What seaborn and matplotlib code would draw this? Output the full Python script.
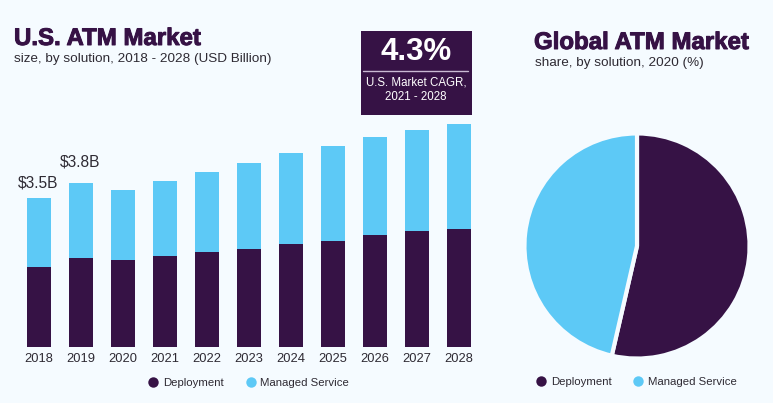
import matplotlib
matplotlib.use("Agg")
import matplotlib.pyplot as plt
import matplotlib.patheffects as pe
from matplotlib.lines import Line2D
from matplotlib.patches import Rectangle
import seaborn as sns
import pandas as pd

years = ["2018", "2019", "2020", "2021", "2022", "2023", "2024", "2025", "2026", "2027", "2028"]
deployment = [1.88, 2.10, 2.04, 2.13, 2.23, 2.31, 2.42, 2.50, 2.62, 2.72, 2.76]
managed = [1.62, 1.75, 1.65, 1.77, 1.88, 2.00, 2.14, 2.22, 2.31, 2.38, 2.48]
bar_labels = ["$3.5B", "$3.8B"]
share_labels = ["Deployment", "Managed Service"]
share_values = [53.6, 46.4]

DARK = "#361245"
BLUE = "#5DC9F6"
BG = "#F5FBFF"
TEXT = "#2E2A33"
W, H = 773, 403

sns.set_theme(style="white")
plt.rcParams["font.family"] = ["Liberation Sans", "DejaVu Sans"]
fig = plt.figure(figsize=(W / 100, H / 100), dpi=100, facecolor=BG)

def fx(px): return px / W
def fy(py): return 1 - py / H

# bars
ax = fig.add_axes([fx(18), fy(347), 462 / W, 247 / H], facecolor="none")
df = pd.DataFrame({"year": years, "deployment": deployment, "managed": managed})
sns.barplot(data=df, x="year", y="managed", bottom=df["deployment"], color=BLUE,
            width=0.585, saturation=1, ax=ax, linewidth=0)
sns.barplot(data=df, x="year", y="deployment", color=DARK,
            width=0.585, saturation=1, ax=ax, linewidth=0)
ax.set_xlim(-0.5, 10.5)
ax.set_ylim(0, 5.80)
ax.set_xlabel("")
ax.set_ylabel("")
ax.set_yticks([])
sns.despine(ax=ax, left=True, bottom=True)
ax.tick_params(axis="x", length=0, pad=4.5, labelsize=9.3, labelcolor=TEXT)
for i, (lab, off) in enumerate(zip(bar_labels, (5.5, 10))):
    ax.annotate(lab, (i, deployment[i] + managed[i]), xytext=(-0.5, off), textcoords="offset points",
                ha="center", va="bottom", fontsize=11.2, color=TEXT)

# pie
pax = fig.add_axes([fx(526), fy(357), 222 / W, 222 / H])
pax.pie(share_values, colors=[DARK, BLUE], startangle=90, counterclock=False, radius=1.014,
        wedgeprops={"edgecolor": BG, "linewidth": 3, "clip_on": False})
pax.set_xlim(-1, 1)
pax.set_ylim(-1, 1)

# titles
heavy = [pe.withStroke(linewidth=0.7, foreground=DARK)]
fig.text(fx(14), fy(36), "U.S. ATM Market", fontsize=17.3, fontweight="bold", color=DARK,
         family="Liberation Sans", va="center_baseline", path_effects=heavy)
fig.text(fx(14), fy(59), "size, by solution, 2018 - 2028 (USD Billion)", fontsize=9.7, color=TEXT, va="center")
fig.text(fx(534), fy(40), "Global ATM Market", fontsize=17.3, fontweight="bold", color=DARK,
         family="Liberation Sans", va="center_baseline", path_effects=heavy)
fig.text(fx(535), fy(63), "share, by solution, 2020 (%)", fontsize=9.7, color=TEXT, va="center")

# CAGR box
fig.add_artist(Rectangle((fx(361), fy(115)), 111 / W, 84 / H, transform=fig.transFigure, facecolor=DARK, edgecolor="none"))
fig.add_artist(Line2D([fx(363), fx(468)], [fy(70.5), fy(70.5)], color="#C9B9D3", lw=1))
fig.text(fx(416), fy(52), "4.3%", color="white", fontsize=22.5, fontweight="bold", ha="center", va="center")
fig.text(fx(416), fy(82.5), "U.S. Market CAGR,", color="white", fontsize=8.3, ha="center", va="center")
fig.text(fx(416), fy(97.5), "2021 - 2028", color="white", fontsize=8.3, ha="center", va="center")

# legends
def legend(cx, cy):
    handles = [Line2D([], [], marker="o", ls="", ms=7.5, color=c, mew=0) for c in (DARK, BLUE)]
    return fig.legend(handles, share_labels, loc="center", bbox_to_anchor=(fx(cx), fy(cy)), ncol=2,
                      frameon=False, fontsize=8.2, handlelength=1.0, handletextpad=0.35, columnspacing=1.85,
                      labelcolor=TEXT, borderpad=0)
legend(248.5, 383)
legend(636, 382)

fig.savefig("out.png", dpi=100, facecolor=BG)
